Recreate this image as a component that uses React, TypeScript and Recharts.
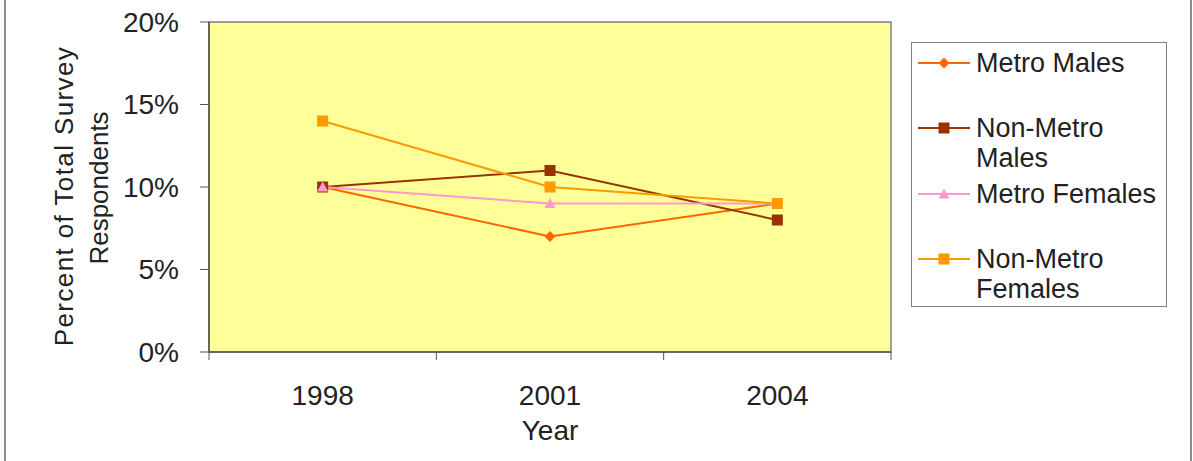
import React from 'react';
import { LineChart, Line, XAxis, YAxis, ReferenceArea } from 'recharts';

const years = ['1998', '2001', '2004'];
const metroMales = [10, 7, 9];
const nonMetroMales = [10, 11, 8];
const metroFemales = [10, 9, 9];
const nonMetroFemales = [14, 10, 9];
const yTicks = [0, 5, 10, 15, 20];

const FONT = '"Liberation Sans", Arial, sans-serif';
const TEXT = '#222222';
const AXIS = '#555555';

type Shape = 'diamond' | 'square' | 'triangle';
interface Series {
  key: string;
  lines: string[];
  color: string;
  shape: Shape;
  size: number;
  values: number[];
}

const series: Series[] = [
  { key: 'metroMales', lines: ['Metro Males'], color: '#FF6600', shape: 'diamond', size: 11, values: metroMales },
  { key: 'nonMetroMales', lines: ['Non-Metro', 'Males'], color: '#993300', shape: 'square', size: 11, values: nonMetroMales },
  { key: 'metroFemales', lines: ['Metro Females'], color: '#FF99CC', shape: 'triangle', size: 11, values: metroFemales },
  { key: 'nonMetroFemales', lines: ['Non-Metro', 'Females'], color: '#FF9900', shape: 'square', size: 11, values: nonMetroFemales },
];

const data = years.map((year, i) => {
  const row: Record<string, string | number> = { year };
  series.forEach((s) => {
    row[s.key] = s.values[i];
  });
  return row;
});

function Marker({ cx, cy, shape, color, size }: { cx?: number; cy?: number; shape: Shape; color: string; size: number }) {
  if (cx == null || cy == null || isNaN(cx) || isNaN(cy)) return null;
  const h = size / 2;
  if (shape === 'diamond') {
    return <polygon points={`${cx},${cy - h} ${cx + h},${cy} ${cx},${cy + h} ${cx - h},${cy}`} fill={color} />;
  }
  if (shape === 'triangle') {
    return <polygon points={`${cx},${cy - h} ${cx + h},${cy + h * 0.8} ${cx - h},${cy + h * 0.8}`} fill={color} />;
  }
  return <rect x={cx - h} y={cy - h} width={size} height={size} fill={color} />;
}

// Category tick: label at band centre, tick marks at band boundaries
const XTick = (props: any) => {
  const { x, y, payload, index } = props;
  const off = payload && payload.offset ? payload.offset : 0;
  const last = index === years.length - 1;
  return (
    <g>
      <line x1={x - off} y1={y} x2={x - off} y2={y + 8} stroke={AXIS} />
      {last && <line x1={x + off} y1={y} x2={x + off} y2={y + 8} stroke={AXIS} />}
      <text x={x} y={y + 33} dy="0.71em" textAnchor="middle" fontSize={28} fill={TEXT} fontFamily={FONT}>
        {payload.value}
      </text>
    </g>
  );
};

const YLabel = (props: any) => {
  const vb = props.viewBox || { x: 0, y: 22, width: 209, height: 330 };
  const cy = vb.y + vb.height / 2;
  return (
    <text transform={`translate(73, ${cy}) rotate(-90)`} textAnchor="middle" fontSize={26} fill={TEXT} fontFamily={FONT}>
      <tspan x={-9} dy={0} letterSpacing={1.4}>Percent of Total Survey</tspan>
      <tspan x={-1} dy={35}>Respondents</tspan>
    </text>
  );
};

function LegendBox() {
  return (
    <div
      style={{
        position: 'absolute',
        left: 911,
        top: 42,
        width: 254,
        height: 258,
        border: '1px solid #808080',
        background: '#ffffff',
        paddingTop: 5,
        boxSizing: 'content-box',
        fontFamily: FONT,
        fontSize: 27,
        color: TEXT,
      }}
    >
      {series.map((s) => (
        <div key={s.key} style={{ position: 'relative', height: 65.3 }}>
          <svg width={52} height={30} style={{ position: 'absolute', left: 6, top: 0 }}>
            <line x1={0} y1={15} x2={52} y2={15} stroke={s.color} strokeWidth={2} />
            <Marker cx={26} cy={15} shape={s.shape} color={s.color} size={s.size} />
          </svg>
          <div style={{ position: 'absolute', left: 64, top: 0, lineHeight: '30px', whiteSpace: 'nowrap' }}>
            {s.lines.map((l, i) => (
              <div key={i}>{l}</div>
            ))}
          </div>
        </div>
      ))}
    </div>
  );
}

export default function App() {
  return (
    <div style={{ position: 'fixed', left: 0, top: 0, width: 1193, height: 461, background: '#ffffff', overflow: 'hidden' }}>
      <div
        style={{
          position: 'absolute',
          left: 4,
          top: -2,
          width: 1184,
          height: 465,
          borderLeft: '2px solid #8c8c8c',
          borderRight: '2px solid #8c8c8c',
        }}
      />
      <div style={{ position: 'absolute', left: 0, top: 0 }}>
        <LineChart width={1193} height={461} data={data} margin={{ top: 22, right: 302, left: 0, bottom: 0 }}>
          <XAxis
            dataKey="year"
            scale="band"
            height={109}
            tickLine={false}
            tickSize={0}
            tickMargin={0}
            axisLine={{ stroke: AXIS, strokeWidth: 1.5 }}
            tick={<XTick />}
            label={{ value: 'Year', position: 'insideBottom', offset: 21, fontSize: 28, fill: TEXT, fontFamily: FONT }}
          />
          <YAxis
            width={209}
            domain={[0, 20]}
            ticks={yTicks}
            tickFormatter={(v: number) => `${v}%`}
            tickSize={9}
            tickMargin={21}
            tickLine={{ stroke: AXIS }}
            axisLine={{ stroke: AXIS, strokeWidth: 1.5 }}
            tick={{ fontSize: 28, fill: TEXT, fontFamily: FONT }}
            label={{ content: YLabel }}
          />
          <ReferenceArea y1={0} y2={20} fill="#FFFF99" fillOpacity={1} stroke="#808080" strokeWidth={1.5} />
          {series.map((s) => (
            <Line
              key={s.key}
              dataKey={s.key}
              stroke={s.color}
              strokeWidth={2}
              isAnimationActive={false}
              dot={(p: any) => (
                <Marker key={`${s.key}-${p.index}`} cx={p.cx} cy={p.cy} shape={s.shape} color={s.color} size={s.size} />
              )}
              activeDot={false}
            />
          ))}
        </LineChart>
      </div>
      <LegendBox />
    </div>
  );
}
